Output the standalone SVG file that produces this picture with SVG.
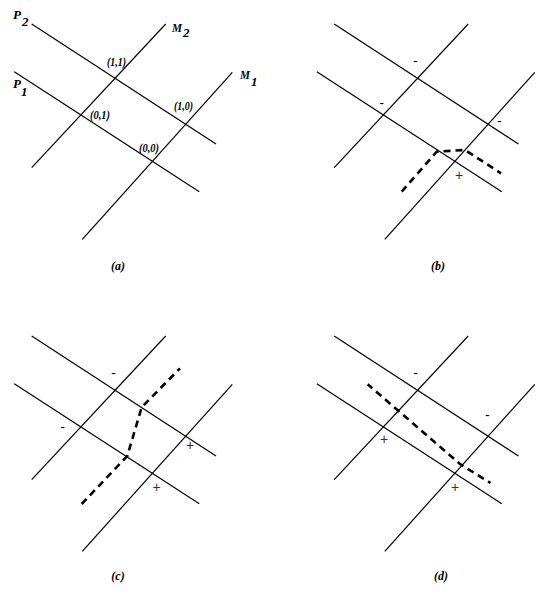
<svg xmlns="http://www.w3.org/2000/svg" xmlns:xlink="http://www.w3.org/1999/xlink" width="540" height="605" viewBox="0 0 540 605">
<style>
.ln{stroke:#000;stroke-width:1.2;fill:none}
.dash{stroke:#000;stroke-width:2.6;fill:none;stroke-dasharray:7,5}
.lbl{font-family:"Liberation Serif",serif;font-style:italic;font-weight:bold;font-size:13px;fill:#000}
.pt{font-family:"Liberation Serif",serif;font-style:italic;font-weight:bold;font-size:13px;fill:#000}
.cap{font-family:"Liberation Serif",serif;font-style:italic;font-weight:bold;font-size:12px;fill:#000;text-anchor:middle}
.mn{font-family:"Liberation Serif",serif;font-weight:bold;font-size:13px;fill:#000;text-anchor:middle}
.pl{font-family:"Liberation Sans",sans-serif;font-size:14px;fill:#333;text-anchor:middle}
</style>
<defs>
<g id="grid">
<line class="ln" x1="31.7" y1="24" x2="216" y2="144"/>
<line class="ln" x1="14.3" y1="71.7" x2="199.3" y2="191.7"/>
<line class="ln" x1="31.7" y1="167.7" x2="165.7" y2="24"/>
<line class="ln" x1="82.3" y1="239.3" x2="232.3" y2="72.3"/>
</g>
</defs>
<g id="panel-a">
<use xlink:href="#grid"/>
<text class="lbl" x="13" y="19">P</text><text class="lbl" x="22" y="26">2</text>
<text class="lbl" x="13" y="88">P</text><text class="lbl" x="21" y="96">1</text>
<text class="lbl" x="172" y="32" textLength="10" lengthAdjust="spacingAndGlyphs">M</text><text class="lbl" x="183" y="37">2</text>
<text class="lbl" x="240" y="79" textLength="10" lengthAdjust="spacingAndGlyphs">M</text><text class="lbl" x="251" y="86">1</text>
<text class="pt" x="107" y="66" textLength="19" lengthAdjust="spacingAndGlyphs">(1,1)</text>
<text class="pt" x="90" y="119" textLength="20" lengthAdjust="spacingAndGlyphs">(0,1)</text>
<text class="pt" x="174" y="110" textLength="19" lengthAdjust="spacingAndGlyphs">(1,0)</text>
<text class="pt" x="139" y="152" textLength="20" lengthAdjust="spacingAndGlyphs">(0,0)</text>
<text class="cap" x="118" y="270">(a)</text>
</g>
<g id="panel-b">
<use xlink:href="#grid" transform="translate(302.5,0)"/>
<g transform="translate(302.5,0)">
<text class="mn" x="112.8" y="64.5">-</text>
<text class="mn" x="79.2" y="106.5">-</text>
<text class="mn" x="196.8" y="125">-</text>
<text class="pl" x="156.5" y="180">+</text>
<polyline class="dash" points="99.2,191.7 134.2,151.7 162.5,150 198.5,173.3"/>
</g>
<text class="cap" x="438" y="270">(b)</text>
</g>
<g id="panel-c">
<use xlink:href="#grid" transform="translate(0,312)"/>
<g transform="translate(0,312)">
<text class="mn" x="113.3" y="64.5">-</text>
<text class="mn" x="62.7" y="118.5">-</text>
<text class="pl" x="190" y="138">+</text>
<text class="pl" x="156.7" y="180.3">+</text>
<polyline class="dash" points="81.7,192 127.3,144 141.7,95.3 180,56.3"/>
</g>
<text class="cap" x="118" y="580">(c)</text>
</g>
<g id="panel-d">
<use xlink:href="#grid" transform="translate(302.5,312)"/>
<g transform="translate(302.5,312)">
<text class="mn" x="113.2" y="64.5">-</text>
<text class="mn" x="184.8" y="107">-</text>
<text class="pl" x="81.5" y="132.3">+</text>
<text class="pl" x="152.5" y="180.3">+</text>
<polyline class="dash" points="65.2,72.3 157.5,152 188,171" style="stroke-dashoffset:1"/>
</g>
<text class="cap" x="441" y="580">(d)</text>
</g>
</svg>
